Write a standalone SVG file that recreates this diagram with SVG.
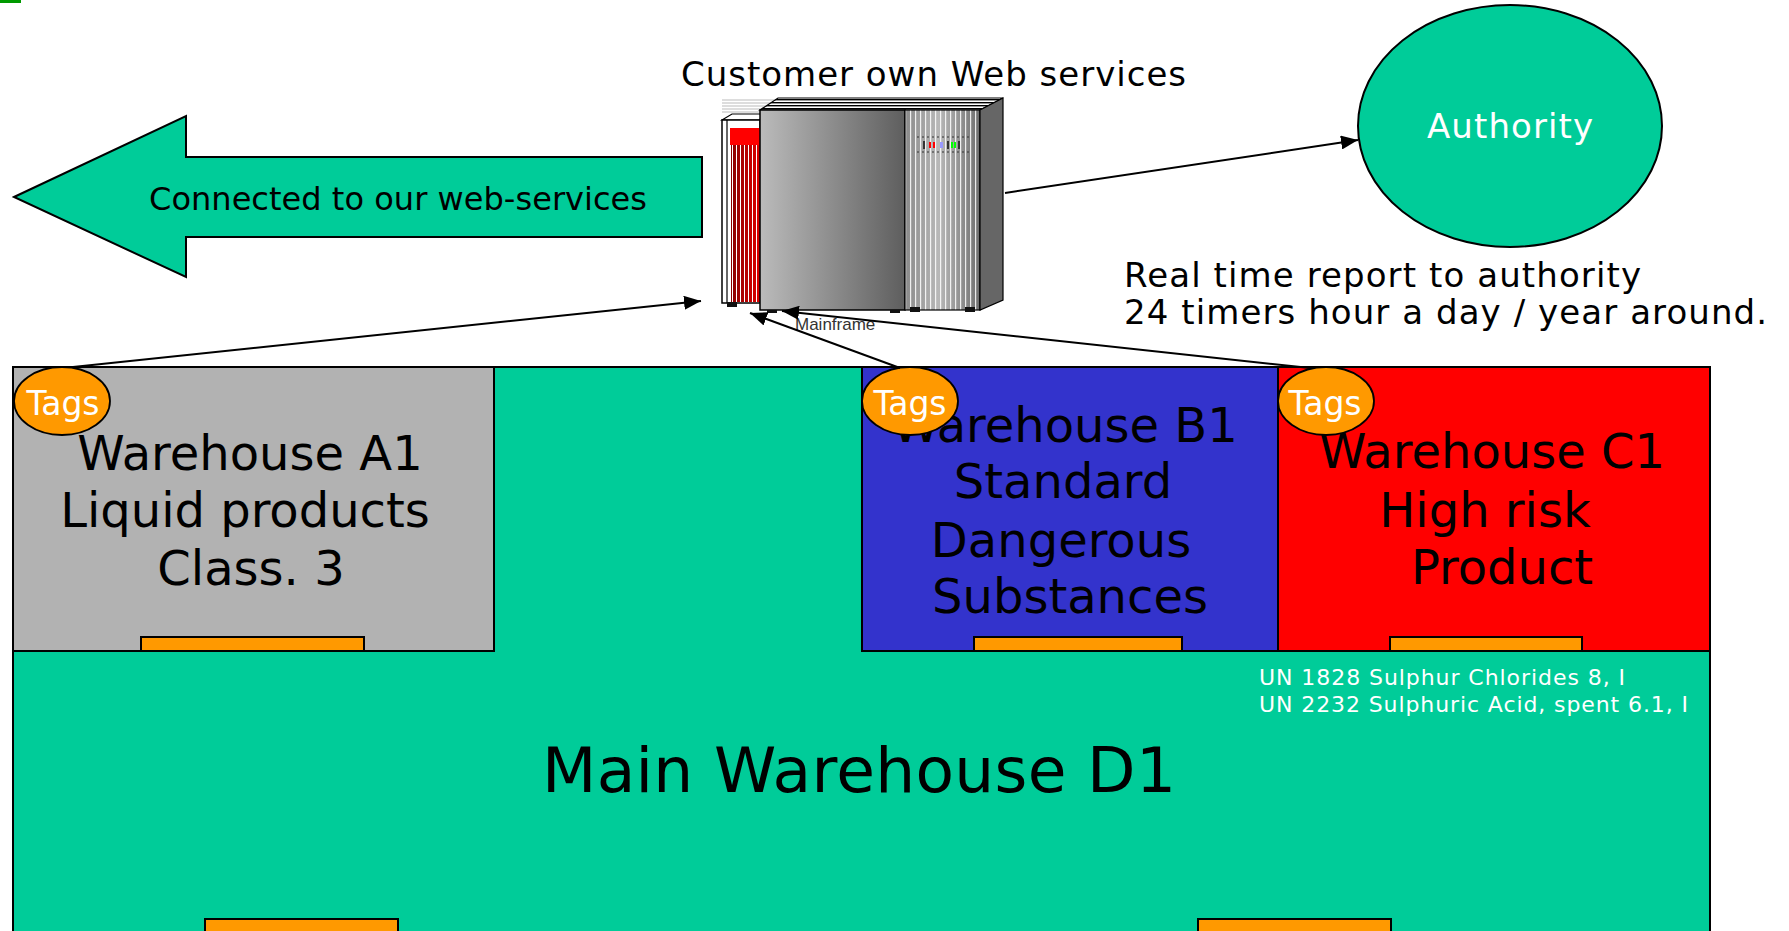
<svg xmlns="http://www.w3.org/2000/svg" width="1789" height="931" viewBox="0 0 1789 931">
  <style>
    .t { font-family: "DejaVu Sans", Verdana, sans-serif; }
    .dark { fill: #000000; }
    .white { fill: #FFFFFF; }
    .box { stroke: #000000; stroke-width: 2; }
    .tag { fill: #FF9900; stroke: #000000; stroke-width: 1.8; }
    .bar { fill: #FF9900; stroke: #000000; stroke-width: 2; }
    .wh { font-size: 48px; text-anchor: middle; }
    .conn { stroke: #000000; stroke-width: 2; fill: none; marker-end: url(#arrow); }
  </style>
  <defs>
    <marker id="arrow" markerUnits="userSpaceOnUse" markerWidth="18" markerHeight="14" refX="17" refY="7" orient="auto">
      <path d="M0,0 L17,7 L0,14 Z" fill="#000000"/>
    </marker>
    <linearGradient id="frontGrad" x1="0" y1="0" x2="1" y2="0">
      <stop offset="0" stop-color="#BBBBBB"/>
      <stop offset="1" stop-color="#5E5E5E"/>
    </linearGradient>
    <linearGradient id="ventGrad" x1="0" y1="0" x2="1" y2="0">
      <stop offset="0" stop-color="#8A8A8A"/>
      <stop offset="0.45" stop-color="#B8B8B8"/>
      <stop offset="1" stop-color="#6E6E6E"/>
    </linearGradient>
    <linearGradient id="redGrad" x1="0" y1="0" x2="1" y2="0">
      <stop offset="0" stop-color="#880000"/>
      <stop offset="1" stop-color="#E00000"/>
    </linearGradient>
    <pattern id="vLines" width="4" height="10" patternUnits="userSpaceOnUse">
      <rect x="0" y="0" width="1" height="10" fill="#FFFFFF"/>
    </pattern>
    <pattern id="ventLines" width="5" height="10" patternUnits="userSpaceOnUse">
      <rect x="0" y="0" width="1.2" height="10" fill="#FFFFFF" opacity="0.85"/>
    </pattern>
    <pattern id="hLines" width="10" height="3" patternUnits="userSpaceOnUse">
      <rect x="0" y="0" width="10" height="1.4" fill="#000000"/>
    </pattern>
  </defs>

  <!-- corner mark -->
  <rect x="0" y="0" width="21" height="3" fill="#009900"/>

  <!-- big left arrow -->
  <g id="web-arrow">
    <polygon points="14,197 186,116 186,157 702,157 702,237 186,237 186,277" fill="#00CC99" stroke="#000000" stroke-width="2"/>
    <text class="t dark" x="149" y="210" font-size="32" textLength="498">Connected to our web-services</text>
  </g>

  <!-- main warehouse -->
  <g id="main-warehouse">
    <rect class="box" x="13" y="367" width="1697" height="580" fill="#00CC99"/>
    <text class="t dark" x="542" y="792" font-size="63" textLength="634">Main Warehouse D1</text>
    <rect class="bar" x="205" y="919" width="193" height="30"/>
    <rect class="bar" x="1198" y="919" width="193" height="30"/>
    <text class="t white" x="1259" y="685" font-size="22" textLength="366">UN 1828 Sulphur Chlorides 8, I</text>
    <text class="t white" x="1259" y="712" font-size="22" textLength="429">UN 2232 Sulphuric Acid, spent 6.1, I</text>
  </g>

  <!-- warehouse A1 -->
  <g id="warehouse-a1">
    <rect class="box" x="13" y="367" width="481" height="284" fill="#B2B2B2"/>
    <rect class="bar" x="141" y="637" width="223" height="14"/>
    <text class="t dark wh" x="250" y="470">Warehouse A1</text>
    <text class="t dark wh" x="245" y="527">Liquid products</text>
    <text class="t dark wh" x="251" y="585">Class. 3</text>
    <ellipse class="tag" cx="62" cy="401" rx="48" ry="34"/>
    <text class="t white" x="63" y="415" font-size="33" text-anchor="middle">Tags</text>
  </g>

  <!-- warehouse B1 -->
  <g id="warehouse-b1">
    <rect class="box" x="862" y="367" width="416" height="284" fill="#3333CC"/>
    <rect class="bar" x="974" y="637" width="208" height="14"/>
    <text class="t dark wh" x="1065" y="442">Warehouse B1</text>
    <text class="t dark wh" x="1063" y="498">Standard</text>
    <text class="t dark wh" x="1061" y="557">Dangerous</text>
    <text class="t dark wh" x="1070" y="613">Substances</text>
    <ellipse class="tag" cx="910" cy="401" rx="48" ry="34"/>
    <text class="t white" x="910" y="415" font-size="33" text-anchor="middle">Tags</text>
  </g>

  <!-- warehouse C1 -->
  <g id="warehouse-c1">
    <rect class="box" x="1278" y="367" width="432" height="284" fill="#FF0000"/>
    <rect class="bar" x="1390" y="637" width="192" height="14"/>
    <text class="t dark wh" x="1492" y="468">Warehouse C1</text>
    <text class="t dark wh" x="1485" y="527">High risk</text>
    <text class="t dark wh" x="1502" y="584">Product</text>
    <ellipse class="tag" cx="1326" cy="401" rx="48" ry="34"/>
    <text class="t white" x="1325" y="415" font-size="33" text-anchor="middle">Tags</text>
  </g>

  <!-- authority -->
  <g id="authority">
    <ellipse cx="1510" cy="126" rx="152" ry="121" fill="#00CC99" stroke="#000000" stroke-width="2"/>
    <text class="t white" x="1427" y="138" font-size="34" textLength="166">Authority</text>
  </g>

  <!-- report note -->
  <g id="report-note">
    <text class="t dark" x="1124" y="287" font-size="34" textLength="517">Real time report to authority</text>
    <text class="t dark" x="1124" y="324" font-size="34" textLength="643">24 timers hour a day / year around.</text>
  </g>

  <!-- mainframe server -->
  <g id="mainframe">
    <text class="t dark" x="681" y="86" font-size="34" textLength="505">Customer own Web services</text>
    <!-- faded top edge lines -->
    <g stroke="#BBBBBB" stroke-width="1">
      <line x1="722" y1="100" x2="780" y2="100"/>
      <line x1="722" y1="103" x2="776" y2="103"/>
      <line x1="722" y1="106" x2="772" y2="106"/>
      <line x1="722" y1="109" x2="768" y2="109"/>
      <line x1="722" y1="112" x2="764" y2="112"/>
    </g>
    <!-- lid -->
    <polygon points="760,110 778,98 1003,98 980,110" fill="#FFFFFF"/>
    <polygon points="760,110 778,98 1003,98 980,110" fill="url(#hLines)" stroke="#000000" stroke-width="1.2"/>
    <!-- left cabinet -->
    <polygon points="722,120 732,114 762,114 760,120" fill="#FFFFFF" stroke="#000000" stroke-width="1.2"/>
    <rect x="722" y="120" width="38" height="183" fill="#FFFFFF" stroke="#000000" stroke-width="1.5"/>
    <line x1="727" y1="120" x2="727" y2="303" stroke="#000000" stroke-width="1.2"/>
    <rect x="730" y="128" width="30" height="17" fill="#FF0000"/>
    <rect x="731" y="145" width="29" height="157" fill="url(#redGrad)"/>
    <rect x="731" y="145" width="29" height="157" fill="url(#vLines)"/>
    <!-- front panel -->
    <rect x="760" y="110" width="145" height="200" fill="url(#frontGrad)" stroke="#000000" stroke-width="1.5"/>
    <!-- vent panel -->
    <rect x="905" y="110" width="75" height="200" fill="url(#ventGrad)"/>
    <rect x="905" y="110" width="75" height="200" fill="url(#ventLines)" stroke="#000000" stroke-width="1.2"/>
    <!-- status lights -->
    <line x1="917" y1="137" x2="970" y2="137" stroke="#333333" stroke-width="1" stroke-dasharray="2,3"/>
    <line x1="917" y1="152" x2="970" y2="152" stroke="#333333" stroke-width="1" stroke-dasharray="2,3"/>
    <rect x="923" y="141" width="2" height="8" fill="#333333"/>
    <rect x="929" y="142" width="2" height="6" fill="#FF0000"/>
    <rect x="933" y="142" width="2" height="6" fill="#FF0000"/>
    <rect x="940" y="142" width="3" height="6" fill="#9999FF"/>
    <rect x="947" y="141" width="2" height="8" fill="#333333"/>
    <rect x="951" y="142" width="2" height="6" fill="#00FF00"/>
    <rect x="954" y="142" width="2" height="6" fill="#00FF00"/>
    <rect x="958" y="141" width="2" height="8" fill="#333333"/>
    <!-- side face -->
    <polygon points="980,110 1003,98 1003,300 980,310" fill="#666666" stroke="#000000" stroke-width="1.2"/>
    <!-- feet -->
    <g fill="#111111">
      <rect x="727" y="302" width="10" height="5"/>
      <rect x="767" y="310" width="10" height="3"/>
      <rect x="890" y="310" width="10" height="3"/>
      <rect x="910" y="307" width="10" height="5"/>
      <rect x="965" y="307" width="10" height="5"/>
    </g>
    <text x="795" y="330" font-family="Liberation Sans, Arial, sans-serif" font-size="17" fill="#333333">Mainframe</text>
  </g>

  <!-- connectors -->
  <g id="connectors">
    <line class="conn" x1="73" y1="367" x2="701" y2="301"/>
    <line class="conn" x1="900" y1="368" x2="750" y2="313"/>
    <line class="conn" x1="1310" y1="368" x2="782" y2="311"/>
    <line class="conn" x1="1005" y1="193" x2="1358" y2="140"/>
  </g>
</svg>
